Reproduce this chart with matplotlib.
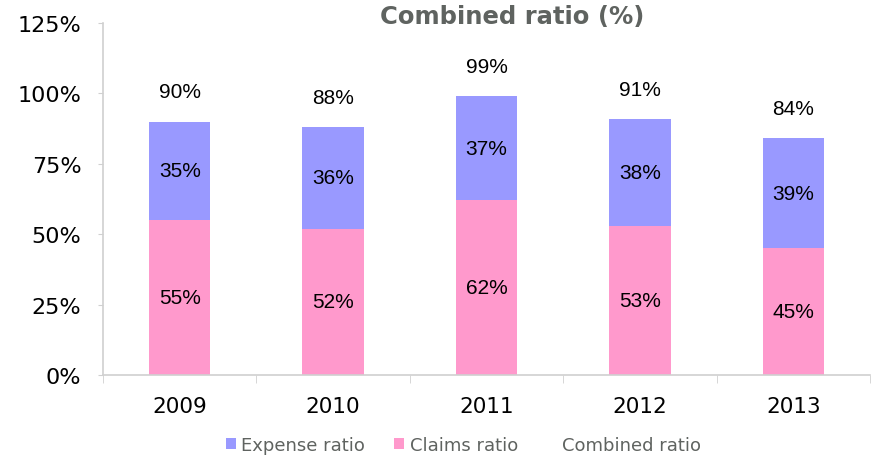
import matplotlib.pyplot as plt
from matplotlib.patches import Patch
from matplotlib.lines import Line2D
import numpy as np

years = ["2009", "2010", "2011", "2012", "2013"]
claims = [55, 52, 62, 53, 45]
expense = [35, 36, 37, 38, 39]
combined = [90, 88, 99, 91, 84]

claims_color = "#ff99cc"
expense_color = "#9999ff"
axis_color = "#d0d0d0"
grey_text = "#5f6360"
label_font = ["Liberation Sans", "DejaVu Sans"]

fig = plt.figure(figsize=(8.73, 4.6), dpi=100)
ax = fig.add_axes([0.118, 0.1826, 0.8786, 0.7654])

x = np.arange(len(years))
ax.bar(x, claims, width=0.4, color=claims_color, zorder=2)
ax.bar(x, expense, width=0.4, bottom=claims, color=expense_color, zorder=2)

for i in range(len(years)):
    ax.text(x[i], claims[i] / 2, f"{claims[i]}%", ha="center", va="center",
            fontsize=15, family=label_font, color="black")
    ax.text(x[i], claims[i] + expense[i] / 2, f"{expense[i]}%", ha="center",
            va="center", fontsize=15, family=label_font, color="black")
    ax.text(x[i], combined[i] + 10.5, f"{combined[i]}%", ha="center",
            va="center", fontsize=15, family=label_font, color="black")

ax.set_xlim(-0.5, len(years) - 0.5)
ax.set_ylim(0, 125)
ax.set_yticks([0, 25, 50, 75, 100, 125])
ax.set_yticklabels([f"{v}%" for v in [0, 25, 50, 75, 100, 125]])
ax.set_xticks(x)
ax.set_xticklabels(years)
ax.set_xticks(np.arange(-0.5, len(years)), minor=True)

for side in ["top", "right"]:
    ax.spines[side].set_visible(False)
for side in ["left", "bottom"]:
    ax.spines[side].set_color(axis_color)
    ax.spines[side].set_linewidth(1.2)

ax.tick_params(axis="y", length=3.5, color=axis_color, labelsize=16,
               labelcolor="black", pad=12)
ax.tick_params(axis="x", which="major", length=0, labelsize=15.5,
               labelcolor="black", pad=15)
ax.tick_params(axis="x", which="minor", length=6, color=axis_color)

fig.text(0.587, 0.963, "Combined ratio (%)", ha="center", va="center",
         fontsize=17.5, fontweight="bold", color=grey_text)

handles = [Patch(facecolor=expense_color, edgecolor="none"),
           Patch(facecolor=claims_color, edgecolor="none"),
           Line2D([], [], color="none")]
leg = fig.legend(handles, ["Expense ratio", "Claims ratio", "Combined ratio"],
                 loc="center", bbox_to_anchor=(0.531, 0.03), ncol=3,
                 frameon=False, fontsize=13, handlelength=0.55,
                 handleheight=0.55, handletextpad=0.3, columnspacing=1.6)
for t in leg.get_texts():
    t.set_color(grey_text)

fig.savefig("out.png", dpi=100)
